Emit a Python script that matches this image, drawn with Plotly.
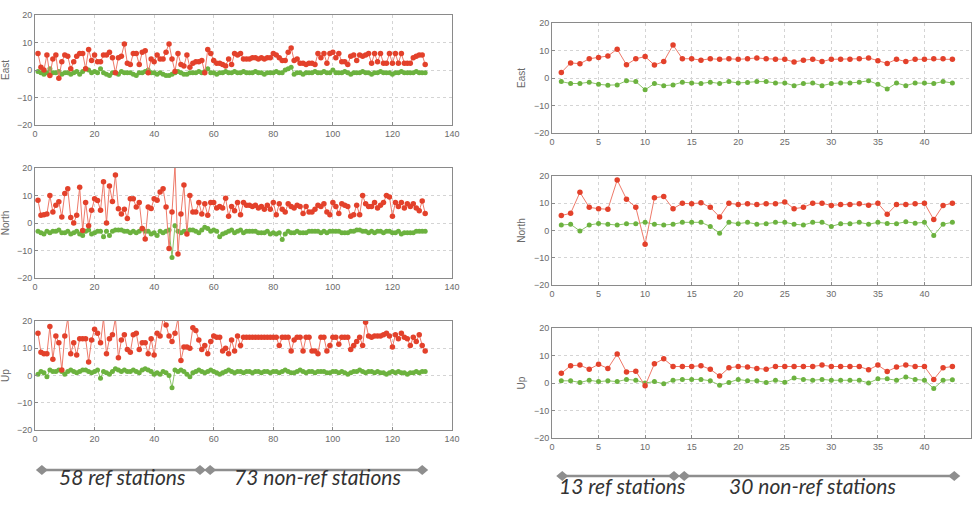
import plotly.graph_objects as go

# ---------------- data ----------------
left_stations = list(range(1, 132))
right_stations = list(range(1, 44))

left_east_red = [6, 1, 0, 5.5, -2, 4, 5.5, -3, 3, 5.5,
                 5, 0.5, 3, 5, 6, 6, 0.5, 7.5, 3.5, 5.5,
                 3, 3, 5.5, 5.5, 6.5, 4.5, -1, 4.5, 5, 9.5,
                 2.5, 2, 6, 6, 2, 6.5, 7, -1, 4, 3,
                 5.5, 4, 4, 6.5, 9.5, 4, -0.5, 6, 2, 1.5,
                 5.5, 1, 2.5, 3, 3, 3.5, -1, 7.5, 6, 3.5,
                 2.5, 2.5, 2, 1.5, 4, 2, 6, 5.5, 6, 4,
                 4, 4, 4.5, 4.5, 4, 4.5, 4, 4.5, 4.5, 6,
                 5.5, 4.5, 3.5, 3.5, 6.5, 8, 3.5, 4, 2.5, 2.5,
                 2, 2.5, 2.5, 2, 6, 4.5, 6, 2.5, 6, 6.5,
                 4.5, 6, 3, 3, 2, 5, 5.5, 3.5, 5.5, 5,
                 5.5, 6, 2.5, 6, 3, 6, 2.5, 2.5, 6, 2.5,
                 6, 2.5, 6, 2.5, 2.5, 2.5, 4.5, 5, 5.5, 5.5,
                 2]
left_east_green = [-0.5, -1, -1.5, -1, 0.5, -1, -1, -0.5, -1.5, -1,
                   -1, -1.5, -1, -0.5, -1.5, -0.5, 0.5, 0, -1, -0.5,
                   -1, 0.5, -1, -1.5, -2, -1, -1, -1.5, -0.5, -1,
                   -1, -1, -1.5, -2, -1, -1, -0.5, 0, -1, -1,
                   -1.5, -1, -1.5, -2, -2, -1.5, -1, -0.5, -1, -1.5,
                   -1.5, -1, -1, -1, -0.5, -1, -0.5, 0.5, -1, -1,
                   -1.5, -1, -1, -0.5, -1, -1, -0.5, -1, -1, -0.5,
                   -1, -1, -1, -0.5, -1, -1, -1.5, -1, -1, -1,
                   -0.5, -1, -1, 0, 0.5, 1, -1.5, -1, -1, -1.5,
                   -1, -1, -1, -0.5, -1, -1, -0.5, -1, -1, 0,
                   -1, -1, -1, -0.5, -1, -1.5, -1, -1, -1, -0.5,
                   -1, -1, -1.5, -1, -1, -0.5, -1, -1, -1, -1.5,
                   -1, -1, -0.5, -1, -1, -1, -1, -0.5, -1, -1,
                   -1]

left_north_red = [8.3, 2.8, 3, 3.3, 10, 4, 6.5, 7.7, 2.2, 10.7,
                  12.5, 2, 0, 2.8, 13, -2.7, 7.5, -1, 4.6, 8.8,
                  8.2, 4.6, 15, 0, 13.5, 7.8, 17.5, 5.2, 3.3, 5,
                  1.6, 8.8, 8.8, 5.8, 7.5, -2, -5.8, 5.8, 5.3, 8.8,
                  8.3, 11.3, 12.5, 5.8, -9.3, 4, 21, -11.3, 3.3, 13.8,
                  -4, 10, 4, 4, 7.5, 3.3, 7, 2.8, 7.5, 7.5,
                  5.5, 6, 5.5, 9, 2.5, 6, 4.5, 7.5, 3, 7.5,
                  6.5, 6.5, 6, 6.5, 5.5, 6, 5, 6.5, 5, 7.5,
                  3, 7, 5, 4, 7, 6, 5.5, 6.5, 6, 3.5,
                  6, 4, 4, 5, 6.5, 6, 7, 4, 3, 7.5,
                  6, 3.5, 7, 6.5, 6, 2.5, 3, 6.5, 3, 10,
                  7, 6, 6, 7.5, 5.5, 6.5, 7.5, 10, 9.5, 2.5,
                  7.5, 6, 7.5, 5.5, 7, 6, 7, 5.5, 4.5, 8,
                  3.5]
left_north_green = [-3, -3.5, -4, -3, -3.5, -3, -3, -2.5, -3.5, -3.5,
                    -3, -4, -3.5, -3, -4, -4.5, -3, -2.5, -4, -3.5,
                    -3, -3, -5, -3, -4.5, -3, -2.5, -2.5, -2.5, -3,
                    -3, -3.5, -3, -3.5, -3, -2, -3, -3, -4, -3.5,
                    -4.5, -3, -3.5, -3, -2.5, -12.5, -1, -3, -3.5, -3,
                    -3, -2.5, -2.5, -3, -3.5, -2.5, -1.5, -2, -3, -2.5,
                    -3, -5, -4, -3.5, -3, -2.5, -3.5, -3, -2.5, -3.5,
                    -3, -3, -3, -3, -3.5, -3.5, -3.5, -3, -4, -3.5,
                    -4, -3.5, -6, -4, -3, -3.5, -3.5, -3, -3.5, -3.5,
                    -3.5, -3, -3, -3, -3, -3.5, -3, -3.5, -3, -3,
                    -3, -3, -3.5, -3.5, -3.5, -3, -3, -2.5, -2.5, -3,
                    -3, -3.5, -3, -3.5, -3, -3, -3.5, -3, -3, -3.5,
                    -3.5, -3, -4, -3.5, -3.5, -3.5, -3.5, -3, -3, -3,
                    -3]

left_up_red = [15.5, 8.5, 8, 8, 18, 6, 14.5, 12, 2, 14.5,
               21, 8, 12, 7.5, 13.5, 13.5, 13.5, 5, 13, 17,
               15.5, 12, 21, 8, 13.5, 15, 21, 6.5, 13, 15,
               9.5, 8.5, 15, 15.5, 9.5, 12, 12, 8, 13.5, 7.5,
               15.5, 14.5, 21, 18.5, 14.5, 12.5, 15.5, 21, 5.5, 10.5,
               10.5, 10, 17.5, 16.5, 13, 9.5, 11, 8, 12.5, 14.5,
               14, 14, 9, 10, 8, 13, 9, 14.5, 11, 14,
               14, 14, 14, 14, 14, 14, 14, 14, 14, 14,
               14, 11, 14, 14, 14, 9, 13, 14, 14, 9,
               14, 14, 9, 9, 8, 14, 14, 9, 11, 14,
               14, 11.5, 14, 14, 14, 9.5, 11, 12.5, 14, 11,
               19.5, 14.5, 14, 14.5, 14.5, 14.5, 15, 15.5, 14.5, 10.5,
               15, 13.5, 15.5, 14, 13.5, 11, 14, 12.5, 15, 11,
               9]
left_up_green = [0.5, 1.5, 1, -0.5, 2, 1.5, 1.5, 2, 1.5, 0.5,
                 1.5, 2, 1.5, 1, 1.5, 2, 2, 1.5, 1, 1.5,
                 2, -1, 1.5, 1, 0.5, 1.5, 2.5, 2, 1.5, 2,
                 1.5, 1.5, 2, 1.5, 1, 2, 2.5, 2, 1.5, 0.5,
                 1, 0.5, 1.5, 1, 0, -4.5, 2, 1.5, 2, 1.5,
                 0.5, -0.5, 1, 1.5, 2, 1.5, 1, 1.5, 2, 1.5,
                 1, 0.5, 1, 1.5, 2, 1.5, 1, 1.5, 1.5, 1,
                 1.5, 1.5, 1, 1.5, 1.5, 1, 1.5, 1.5, 1, 1.5,
                 1.5, 1, 1.5, 2, 1.5, 1, 1, 1.5, 2, 1.5,
                 1, 1.5, 1.5, 1, 1.5, 1.5, 1.5, 1, 1, 1.5,
                 1.5, 1, 1.5, 1, 0.5, 1, 1.5, 1.5, 2, 1.5,
                 1, 1.5, 1.5, 1, 1.5, 1, 1, 0.5, 1, 1.5,
                 1, 1.5, 1, 1, 0.5, 1, 1, 1.5, 1, 1.5,
                 1.5]

right_east_red = [2, 5.5, 5.2, 7, 7.5, 8, 10.5, 4.8, 7, 7.8,
                  4.7, 6, 12, 7, 7, 6.5, 7, 6.8, 7, 6.8,
                  7, 7.3, 7, 6.8, 6.8, 5.8, 6.5, 6.8, 6, 6.8,
                  6.8, 6.8, 7, 7.3, 6.3, 5.3, 6.8, 6, 6.8, 6.8,
                  7, 7, 6.8]
right_east_green = [-1.3, -2, -2, -1.5, -2.3, -2.6, -2.5, -1, -1.3, -4.3,
                    -2, -2.8, -2.5, -1.5, -1.8, -2, -1.5, -2, -1.3, -1.8,
                    -1.6, -1.3, -1.3, -1.8, -1.8, -2.8, -2, -1.8, -2.8, -2,
                    -1.8, -1.8, -1.5, -1, -2.3, -4, -1.8, -2.8, -1.8, -1.8,
                    -2, -1.3, -1.8]

right_north_red = [5.5, 6.3, 14, 8.5, 8, 7.8, 18.5, 11.5, 8.5, -5,
                   12, 12.5, 8, 10, 9.8, 10.2, 8.5, 5, 10, 9.5,
                   9.8, 9.5, 9.8, 9.8, 10.5, 8, 8.5, 10, 10, 9.2,
                   9.5, 9.5, 9.8, 9.3, 10, 6, 9.5, 9.5, 9.8, 10,
                   4, 9.2, 10]
right_north_green = [2, 2.3, -0.2, 2, 2.6, 2.3, 2, 2.5, 2.5, 3,
                     2.3, 2, 2.3, 3, 3, 3, 1.5, -1, 3, 2.5,
                     3, 2.3, 2.5, 3, 3, 2.3, 2, 3, 3, 1.5,
                     2.5, 2.5, 3, 2.3, 3, 2.6, 2.5, 3.2, 2.7, 3,
                     -1.8, 2.3, 3]

right_up_red = [3.5, 6.3, 6.5, 5, 6.8, 5.3, 10.5, 4, 4.3, -1,
                7, 8.8, 6, 6, 6, 6.3, 5, 2.5, 5.5, 6,
                5.8, 5.3, 5, 6, 6, 6, 6, 6, 6.5, 6,
                6, 6, 6, 4.8, 6.5, 4.2, 5.8, 6.5, 6, 6,
                1.3, 5.5, 6]
right_up_green = [0.8, 0.8, 0.2, 1, 0.5, 0.8, 0.5, 1.3, 1, 0,
                  0.5, -0.3, 1, 1.3, 1.3, 1.3, 0.8, -0.8, 0.2, 1.3,
                  0.8, 0.8, 0.2, 1, 0.3, 1.8, 1.3, 1, 1.3, 1,
                  1, 1, 1, 0, 1.5, 1.5, 1, 2.2, 1.3, 1,
                  -2, 1, 1.2]

component_titles = ["East", "North", "Up"]
y_ticks = [-20, -10, 0, 10, 20]
left_x_ticks = [0, 20, 40, 60, 80, 100, 120, 140]
right_x_ticks = [0, 5, 10, 15, 20, 25, 30, 35, 40, 45]

left_groups = ["58 ref stations", "73 non-ref stations"]
right_groups = ["13 ref stations", "30 non-ref stations"]

# ---------------- style ----------------
RED = "#e3412b"
RED_LINE = "#ee7a6a"
GREEN = "#6cb23f"
GREEN_LINE = "#8cc46a"
W, H = 975, 510


def px_x(p):
    return p / W


def px_y(p):
    return 1 - p / H


# panel boxes in pixels: (x0, x1, ytop, ybottom)
boxes = [
    (35, 452, 15, 125), (35, 452, 168, 278), (35, 452, 321, 430),
    (552, 971, 23, 133), (552, 971, 176, 285), (552, 971, 328, 438),
]

series = [
    (left_stations, left_east_red, left_east_green),
    (left_stations, left_north_red, left_north_green),
    (left_stations, left_up_red, left_up_green),
    (right_stations, right_east_red, right_east_green),
    (right_stations, right_north_red, right_north_green),
    (right_stations, right_up_red, right_up_green),
]

fig = go.Figure()
axis_font = dict(family="Liberation Sans, Arial", size=9, color="#6a6a6a")

for i, ((xs, red, green), box) in enumerate(zip(series, boxes)):
    n = i + 1
    xa = "x" if n == 1 else f"x{n}"
    ya = "y" if n == 1 else f"y{n}"
    fig.add_trace(go.Scatter(x=xs, y=green, mode="lines+markers", xaxis=xa, yaxis=ya,
                             line=dict(color=GREEN_LINE, width=1),
                             marker=dict(color=GREEN, size=5), showlegend=False))
    fig.add_trace(go.Scatter(x=xs, y=red, mode="lines+markers", xaxis=xa, yaxis=ya,
                             line=dict(color=RED_LINE, width=1),
                             marker=dict(color=RED, size=5.5), showlegend=False))
    left = i < 3
    x0, x1, yt, yb = box
    xkey = "xaxis" if n == 1 else f"xaxis{n}"
    ykey = "yaxis" if n == 1 else f"yaxis{n}"
    fig.layout[xkey] = dict(
        domain=[px_x(x0), px_x(x1)], anchor=ya,
        range=[0, 140] if left else [0, 45],
        tickvals=left_x_ticks if left else right_x_ticks,
        showgrid=True, gridcolor="#d4d4d4", griddash="dot", gridwidth=1,
        showline=True, linecolor="#8a8a8a", linewidth=1, mirror=True,
        ticks="inside", ticklen=3, tickcolor="#8a8a8a",
        tickfont=axis_font, zeroline=False, fixedrange=True, automargin=False,
    )
    fig.layout[ykey] = dict(
        domain=[px_y(yb), px_y(yt)], anchor=xa,
        range=[-20, 20], tickvals=y_ticks,
        showgrid=True, gridcolor="#d4d4d4", griddash="dot", gridwidth=1,
        showline=True, linecolor="#8a8a8a", linewidth=1, mirror=True,
        ticks="inside", ticklen=3, tickcolor="#8a8a8a",
        tickfont=axis_font, zeroline=False, fixedrange=True, automargin=False,
        title=dict(text=component_titles[i % 3], font=dict(family="Liberation Sans, Arial", size=10, color="#6a6a6a"), standoff=6),
    )

# ---------------- station group brackets ----------------
GRAY = "#8e8e8e"
shapes = []
annotations = []


def bracket(xref, xa, xb, ypix):
    yp = px_y(ypix)
    shapes.append(dict(type="line", xref=xref, yref="paper", x0=xa, x1=xb, y0=yp, y1=yp,
                       line=dict(color=GRAY, width=2.5)))
    for xv in (xa, xb):
        shapes.append(dict(type="path", xref=xref, yref="paper", xsizemode="pixel", ysizemode="pixel",
                           xanchor=xv, yanchor=yp, path="M-6,0 L0,5 L6,0 L0,-5 Z",
                           fillcolor=GRAY, line=dict(color=GRAY, width=0)))


bracket("x3", 2.3, 55.4, 470)
bracket("x3", 58.8, 130, 470)
bracket("x6", 1.1, 13.1, 476)
bracket("x6", 14.2, 43.2, 476)

label_font = dict(family="Lato, Open Sans", size=21, color="#333333", style="italic")
annotations.append(dict(xref="x3", yref="paper", x=29.2, y=px_y(491), text=left_groups[0],
                        showarrow=False, font=label_font))
annotations.append(dict(xref="x3", yref="paper", x=94.7, y=px_y(491), text=left_groups[1],
                        showarrow=False, font=label_font))
annotations.append(dict(xref="x6", yref="paper", x=7.5, y=px_y(500), text=right_groups[0],
                        showarrow=False, font=label_font))
annotations.append(dict(xref="x6", yref="paper", x=28.0, y=px_y(500), text=right_groups[1],
                        showarrow=False, font=label_font))

fig.update_layout(
    width=W, height=H,
    margin=dict(l=0, r=0, t=0, b=0),
    paper_bgcolor="white", plot_bgcolor="white",
    shapes=shapes, annotations=annotations,
    showlegend=False,
)

fig.write_html(
    "out.html",
    config={"displayModeBar": False},
    post_script="document.body.style.margin='0px';document.documentElement.style.overflow='hidden';",
)
